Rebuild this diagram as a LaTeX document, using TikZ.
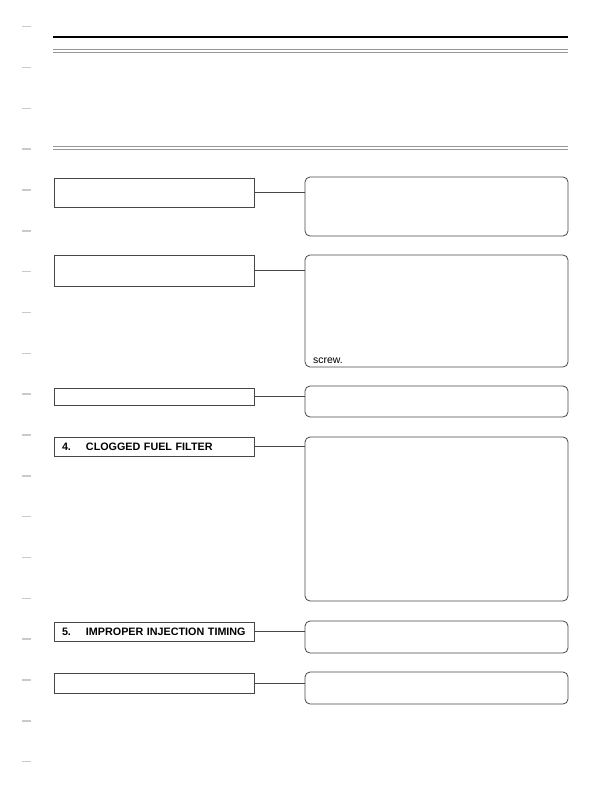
\documentclass[tikz,border=0pt]{standalone}
\usepackage{fontspec}
\setsansfont{Liberation Sans}
\usepackage{tikz}
\usetikzlibrary{calc, positioning}
\definecolor{ScanInk}{RGB}{70, 70, 70}
\definecolor{ScanGrey}{RGB}{150, 150, 150}

\begin{document}
\begin{tikzpicture}[x=1bp, y=-1bp,
    causebox/.style={draw=ScanInk, line width=0.8bp, inner sep=0pt, outer sep=0pt,
        anchor=north west, minimum width=200bp, font=\sffamily\bfseries\fontsize{10.8}{12}\selectfont,
        text width=184bp, inner xsep=8bp, align=left},
    remedybox/.style={draw=ScanInk, line width=0.8bp, rounded corners=5bp, inner sep=0pt,
        outer sep=0pt, anchor=north west, minimum width=263bp},
    link/.style={draw=ScanInk, line width=0.7bp}]
    \useasboundingbox (0,0) rectangle (610,790);

    % Marcas del margen
    \foreach \k in {0,...,18}
        \draw[ScanGrey!50, line width=1.6bp] (22,26.7+40.83*\k) -- (31,26.7+40.83*\k);

    % Cabecera
    \draw[black, line width=1.6bp] (53,37) -- (568,37);
    \draw[ScanGrey, line width=0.7bp] (53,49) -- (568,49);
    \draw[ScanGrey, line width=0.7bp] (53,52) -- (568,52);
    \draw[ScanGrey, line width=0.7bp] (53,146) -- (568,146);
    \draw[ScanGrey, line width=0.7bp] (53,149.5) -- (568,149.5);

    % Causa 1
    \node[causebox, minimum height=29bp] (cause1) at (54,178) {};
    \node[remedybox, minimum height=59bp] (remedy1) at (305,177) {};
    \draw[link] (cause1.east) -- (cause1.east -| remedy1.west);

    % Causa 2
    \node[causebox, minimum height=31bp] (cause2) at (54,255) {};
    \node[remedybox, minimum height=112bp] (remedy2) at (305,255) {};
    \node[font=\sffamily\fontsize{10.5}{12}\selectfont, anchor=base west, inner sep=0pt] (screw) at (313,363) {screw.};
    \draw[link] (cause2.east) -- (cause2.east -| remedy2.west);

    % Causa 3
    \node[causebox, minimum height=17bp] (cause3) at (54,388) {};
    \node[remedybox, minimum height=31bp] (remedy3) at (305,386) {};
    \draw[link] (cause3.east) -- (cause3.east -| remedy3.west);

    % Causa 4
    \node[causebox, minimum height=19bp] (cause4) at (54,437) {\makebox[24bp][l]{4.}CLOGGED FUEL FILTER};
    \node[remedybox, minimum height=164bp] (remedy4) at (305,437) {};
    \draw[link] (cause4.east) -- (cause4.east -| remedy4.west);

    % Causa 5
    \node[causebox, minimum height=19bp] (cause5) at (54,622) {\makebox[24bp][l]{5.}IMPROPER INJECTION TIMING};
    \node[remedybox, minimum height=32bp] (remedy5) at (305,621) {};
    \draw[link] (cause5.east) -- (cause5.east -| remedy5.west);

    % Causa 6
    \node[causebox, minimum height=20bp] (cause6) at (54,673) {};
    \node[remedybox, minimum height=32bp] (remedy6) at (305,672) {};
    \draw[link] (cause6.east) -- (cause6.east -| remedy6.west);
\end{tikzpicture}
\end{document}
